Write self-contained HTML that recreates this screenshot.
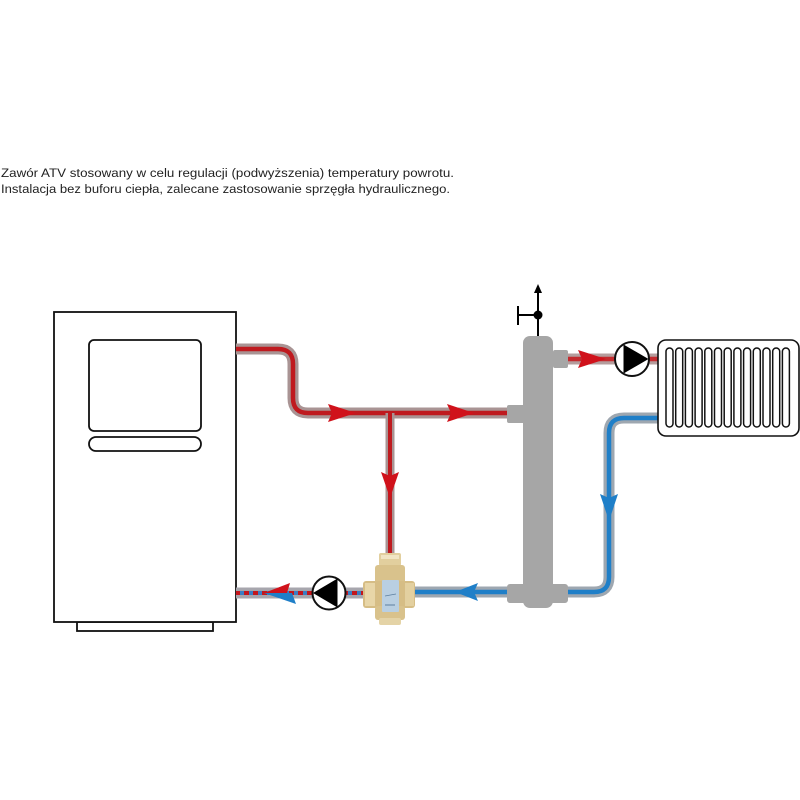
<!DOCTYPE html>
<html><head><meta charset="utf-8"><style>
html,body{margin:0;padding:0;background:#fff;}
svg{display:block;}
</style></head><body>
<svg width="800" height="800" viewBox="0 0 800 800" xmlns="http://www.w3.org/2000/svg">
<rect width="800" height="800" fill="#fff"/>
<text x="1" y="177" font-family="Liberation Sans, sans-serif" font-size="12.3" fill="#222" textLength="453" lengthAdjust="spacingAndGlyphs">Zawór ATV stosowany w celu regulacji (podwyższenia) temperatury powrotu.</text>
<text x="1" y="193" font-family="Liberation Sans, sans-serif" font-size="12.3" fill="#222" textLength="449" lengthAdjust="spacingAndGlyphs">Instalacja bez buforu ciepła, zalecane zastosowanie sprzęgła hydraulicznego.</text>

<!-- Boiler -->
<rect x="77" y="622" width="136" height="9" fill="#fff" stroke="#111" stroke-width="1.8"/>
<rect x="54" y="312" width="182" height="310" fill="#fff" stroke="#111" stroke-width="1.8"/>
<rect x="89" y="340" width="112" height="91" rx="5" fill="#fff" stroke="#111" stroke-width="1.8"/>
<rect x="89" y="437" width="112" height="14" rx="7" fill="#fff" stroke="#111" stroke-width="1.8"/>

<!-- Red supply pipe -->
<path d="M236,349 H278 Q293,349 293,364 V398 Q293,413 308,413 H510" fill="none" stroke="#a99494" stroke-width="11"/>
<path d="M236,349 H278 Q293,349 293,364 V398 Q293,413 308,413 H510" fill="none" stroke="#bf1a1f" stroke-width="4.5"/>
<!-- red down branch -->
<path d="M390,413 V556" fill="none" stroke="#a99494" stroke-width="9"/>
<path d="M390,413 V556" fill="none" stroke="#bf1a1f" stroke-width="4"/>
<!-- arrows -->
<polygon points="328,404 356,413 328,422 332,413" fill="#d0121b"/>
<polygon points="447,404 474,413 447,422 451,413" fill="#d0121b"/>
<polygon points="381,472 390,498 399,472 390,476" fill="#d0121b"/>

<!-- red to radiator -->
<path d="M566,359 H660" fill="none" stroke="#b59d9d" stroke-width="11"/>
<path d="M566,359 H660" fill="none" stroke="#c42a2e" stroke-width="4.5"/>
<polygon points="578,350 606,359 578,368 582,359" fill="#d0121b"/>

<!-- Blue return from radiator -->
<path d="M660,418 H624 Q609,418 609,433 V577 Q609,592 594,592 H566" fill="none" stroke="#9ea7b0" stroke-width="11"/>
<path d="M660,418 H624 Q609,418 609,433 V577 Q609,592 594,592 H566" fill="none" stroke="#1f7fc8" stroke-width="4.5"/>
<polygon points="600,494 609,521 618,494 609,498" fill="#1f7fc8"/>
<path d="M509,592 H412" fill="none" stroke="#9ea7b0" stroke-width="11"/>
<path d="M509,592 H412" fill="none" stroke="#1f7fc8" stroke-width="4.5"/>
<polygon points="478,583 455,592 478,601 474,592" fill="#1f7fc8"/>

<!-- bottom left pipe to boiler -->
<path d="M366,593 H236" fill="none" stroke="#a7a6ad" stroke-width="11"/>
<path d="M366,593 H236" fill="none" stroke="#c4161c" stroke-width="4" stroke-dasharray="5,4"/>
<path d="M366,593 H236" fill="none" stroke="#3a7ec4" stroke-width="4" stroke-dasharray="4,5" stroke-dashoffset="-5"/>
<polygon points="264,593 290,583 287,593" fill="#d0121b"/>
<polygon points="264,593 296,604 292,593" fill="#1f7fc8"/>

<!-- Pumps -->
<circle cx="329" cy="593" r="16.5" fill="#fff" stroke="#111" stroke-width="2"/>
<polygon points="313,593 337.5,578.5 337.5,607.5" fill="#000"/>
<circle cx="632" cy="359" r="17" fill="#fff" stroke="#111" stroke-width="2"/>
<polygon points="648.5,359 623.5,344.5 623.5,373.5" fill="#000"/>

<!-- Hydraulic separator -->
<g fill="#a6a6a6">
<rect x="523" y="336" width="30" height="272" rx="7"/>
<rect x="553" y="350" width="15" height="18" rx="2"/>
<rect x="507" y="405" width="20" height="18" rx="2"/>
<rect x="507" y="584" width="61" height="19" rx="3"/>
</g>
<!-- vent -->
<line x1="538" y1="292" x2="538" y2="336" stroke="#000" stroke-width="2"/>
<polygon points="538,284 534,293 542,293" fill="#000"/>
<line x1="518" y1="315" x2="538" y2="315" stroke="#000" stroke-width="2"/>
<line x1="518" y1="306" x2="518" y2="325" stroke="#000" stroke-width="2"/>
<circle cx="538" cy="315" r="4.5" fill="#000"/>

<!-- Radiator -->
<rect x="658" y="340" width="141" height="96" rx="8" fill="#fff" stroke="#111" stroke-width="1.6"/>
<g fill="#fff" stroke="#111" stroke-width="1.5">
<rect x="666" y="348" width="7" height="79" rx="3.5"/>
<rect x="675.7" y="348" width="7" height="79" rx="3.5"/>
<rect x="685.4" y="348" width="7" height="79" rx="3.5"/>
<rect x="695.1" y="348" width="7" height="79" rx="3.5"/>
<rect x="704.8" y="348" width="7" height="79" rx="3.5"/>
<rect x="714.5" y="348" width="7" height="79" rx="3.5"/>
<rect x="724.2" y="348" width="7" height="79" rx="3.5"/>
<rect x="733.9" y="348" width="7" height="79" rx="3.5"/>
<rect x="743.6" y="348" width="7" height="79" rx="3.5"/>
<rect x="753.3" y="348" width="7" height="79" rx="3.5"/>
<rect x="763" y="348" width="7" height="79" rx="3.5"/>
<rect x="772.7" y="348" width="7" height="79" rx="3.5"/>
<rect x="782.4" y="348" width="7" height="79" rx="3.5"/>
</g>

<!-- Valve -->
<g>
<rect x="379" y="553" width="22" height="13" rx="2" fill="#e2cf9e"/>
<rect x="381" y="555" width="18" height="4" fill="#f1e5c4"/>
<rect x="375" y="565" width="30" height="20" rx="3" fill="#d9c28c"/>
<rect x="363" y="581" width="52" height="27" rx="3" fill="#d6bd85"/>
<rect x="365" y="583" width="10" height="23" fill="#e8d6a8"/>
<rect x="405" y="583" width="9" height="23" fill="#e3d0a0"/>
<rect x="375" y="606" width="30" height="14" rx="3" fill="#d9c28c"/>
<rect x="379" y="618" width="22" height="7" rx="2" fill="#e4d3a6"/>
<rect x="382" y="580" width="17" height="32" rx="1" fill="#b9cfe2"/>
<line x1="385" y1="596" x2="396" y2="594" stroke="#5d7fa0" stroke-width="0.8"/>
<line x1="385" y1="605" x2="395" y2="605" stroke="#5d7fa0" stroke-width="1"/>
</g>
</svg>
</body></html>
